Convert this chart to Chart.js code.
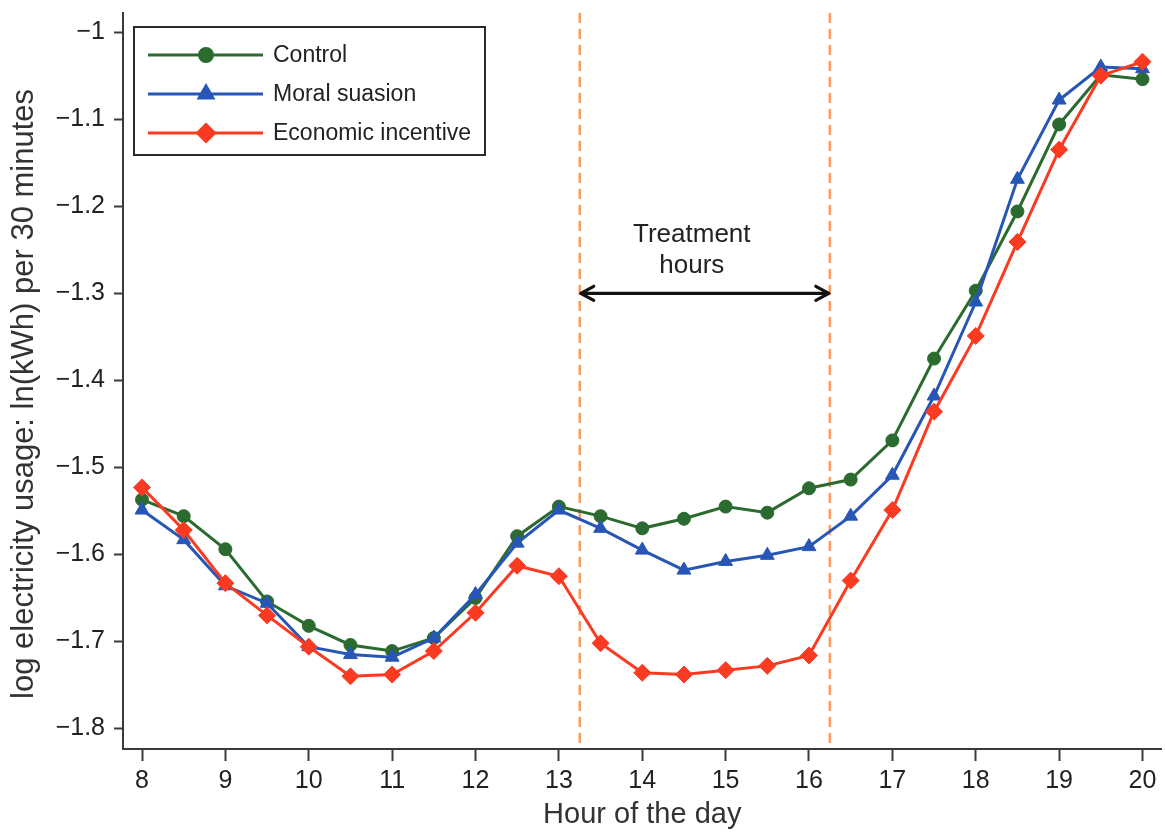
<!DOCTYPE html>
<html>
<head>
<meta charset="utf-8">
<script src="https://cdn.jsdelivr.net/npm/chart.js@4.4.1/dist/chart.umd.min.js"></script>
<style>
	html, body { margin: 0; padding: 0; background: #fff; overflow: hidden; }
	/* a few px wider than the window: Chart.js keeps ~9px free past the last x label */
	#wrap { width: 1171px; height: 832px; position: relative; }
</style>
</head>
<body>
<div id="wrap"><canvas id="chart"></canvas></div>
<script>
// Half-hourly log electricity usage by treatment group.
const hours = [8, 8.5, 9, 9.5, 10, 10.5, 11, 11.5, 12, 12.5, 13, 13.5, 14, 14.5, 15, 15.5, 16, 16.5, 17, 17.5, 18, 18.5, 19, 19.5, 20];
const control = [-1.537, -1.556, -1.594, -1.654, -1.682, -1.704, -1.711, -1.696, -1.65, -1.579, -1.545, -1.556, -1.57, -1.559, -1.545, -1.552, -1.524, -1.514, -1.469, -1.375, -1.297, -1.206, -1.106, -1.049, -1.054];
const moralSuasion = [-1.549, -1.583, -1.636, -1.656, -1.706, -1.715, -1.718, -1.696, -1.646, -1.587, -1.549, -1.57, -1.595, -1.618, -1.608, -1.601, -1.591, -1.556, -1.509, -1.418, -1.31, -1.169, -1.078, -1.04, -1.042];
const economicIncentive = [-1.523, -1.572, -1.633, -1.67, -1.706, -1.74, -1.738, -1.711, -1.667, -1.613, -1.625, -1.702, -1.736, -1.738, -1.733, -1.728, -1.716, -1.63, -1.549, -1.436, -1.349, -1.241, -1.135, -1.05, -1.034];

const treatmentStart = 13.25;
const treatmentEnd = 16.25;
const arrowLevel = -1.3;
const treatmentLabel = ['Treatment', 'hours'];

const FONT = '"Liberation Sans", Arial, Helvetica, sans-serif';
const INK = '#222';
const AXIS = '#3a3a3a';

function toPoints(values) {
	return hours.map((h, i) => ({ x: h, y: values[i] }));
}

function series(label, values, color, pointStyle, radius, order) {
	return {
		label,
		data: toPoints(values),
		borderColor: color,
		backgroundColor: color,
		borderWidth: 3,
		pointStyle,
		pointRadius: radius,
		pointBorderWidth: 1,
		tension: 0,
		order,
	};
}

function minusLabel(v) {
	const r = Math.round(v * 10) / 10;
	if (r === 0) {
		return '0';
	}
	const s = Math.abs(r) === 1 ? '1' : Math.abs(r).toFixed(1);
	return (r < 0 ? '\u2212' : '') + s;
}

// Chart.js reserves room for half a tick label at the axis ends; the
// reference plot does not, so drop it to keep the frame where it belongs.
function noEndPadding(scale) {
	scale.paddingTop = 0;
	scale.paddingBottom = 0;
	scale.paddingLeft = 0;
	scale.paddingRight = 0;
}

// Dashed treatment-window lines, double arrow and its caption.
const treatmentPlugin = {
	id: 'treatment',
	beforeDatasetsDraw(chart) {
		const { ctx, chartArea, scales } = chart;
		ctx.save();
		ctx.strokeStyle = '#f79c5e';
		ctx.lineWidth = 2.5;
		ctx.setLineDash([10, 6]);
		for (const h of [treatmentStart, treatmentEnd]) {
			const px = scales.x.getPixelForValue(h);
			ctx.beginPath();
			ctx.moveTo(px, chartArea.top);
			ctx.lineTo(px, chartArea.bottom);
			ctx.stroke();
		}
		ctx.restore();
	},
	afterDatasetsDraw(chart) {
		const { ctx, scales } = chart;
		const x0 = scales.x.getPixelForValue(treatmentStart);
		const x1 = scales.x.getPixelForValue(treatmentEnd);
		const y = scales.y.getPixelForValue(arrowLevel);
		ctx.save();
		ctx.strokeStyle = '#111';
		ctx.lineWidth = 3.2;
		ctx.lineCap = 'round';
		ctx.lineJoin = 'round';
		ctx.beginPath();
		ctx.moveTo(x0 + 1, y);
		ctx.lineTo(x1 - 1, y);
		ctx.moveTo(x0 + 14, y - 7);
		ctx.lineTo(x0 + 1, y);
		ctx.lineTo(x0 + 14, y + 7);
		ctx.moveTo(x1 - 14, y - 7);
		ctx.lineTo(x1 - 1, y);
		ctx.lineTo(x1 - 14, y + 7);
		ctx.stroke();

		ctx.fillStyle = INK;
		ctx.font = `26px ${FONT}`;
		ctx.textAlign = 'center';
		ctx.textBaseline = 'middle';
		const cx = (x0 + x1) / 2 - 13;
		ctx.fillText(treatmentLabel[0], cx, y - 58);
		ctx.fillText(treatmentLabel[1], cx, y - 27);
		ctx.restore();
	},
};

// Boxed legend in the top-left corner of the plot.
const boxLegendPlugin = {
	id: 'boxLegend',
	afterDraw(chart) {
		const { ctx, chartArea } = chart;
		const left = chartArea.left + 11;
		const top = chartArea.top + 14;
		const width = 351;
		const rowH = 39;
		ctx.save();
		ctx.fillStyle = '#fff';
		ctx.strokeStyle = '#2b2b2b';
		ctx.lineWidth = 2;
		ctx.fillRect(left, top, width, 128);
		ctx.strokeRect(left, top, width, 128);
		ctx.font = `23px ${FONT}`;
		ctx.textBaseline = 'middle';
		ctx.textAlign = 'left';
		chart.data.datasets.forEach((ds, i) => {
			const y = top + 28 + i * rowH;
			ctx.strokeStyle = ds.borderColor;
			ctx.lineWidth = ds.borderWidth;
			ctx.beginPath();
			ctx.moveTo(left + 14, y);
			ctx.lineTo(left + 129, y);
			ctx.stroke();
			ctx.fillStyle = ds.backgroundColor;
			Chart.helpers.drawPoint(ctx, {
				pointStyle: ds.pointStyle,
				radius: ds.pointRadius,
				rotation: 0,
				borderWidth: 1,
			}, left + 72, y);
			ctx.fillStyle = INK;
			ctx.fillText(ds.label, left + 139, y + 1);
		});
		ctx.restore();
	},
};

const datasets = [
	series('Control', control, '#2b6b30', 'circle', 6.5, 3),
	series('Moral suasion', moralSuasion, '#2756b6', 'triangle', 8, 2),
	series('Economic incentive', economicIncentive, '#fb3a22', 'rectRot', 8.5, 1),
];

new Chart(document.getElementById('chart'), {
	type: 'line',
	data: { datasets },
	plugins: [treatmentPlugin, boxLegendPlugin],
	options: {
		responsive: true,
		maintainAspectRatio: false,
		animation: false,
		events: [],
		layout: { padding: { top: 13, right: 4, left: 0, bottom: 0 } },
		plugins: {
			legend: { display: false },
			tooltip: { enabled: false },
		},
		scales: {
			x: {
				type: 'linear',
				min: 7.772,
				max: 20.228,
				afterFit: (scale) => {
					scale.height = 83;
					noEndPadding(scale);
				},
				grid: {
					drawOnChartArea: false,
					drawTicks: true,
					tickLength: 12,
					tickWidth: 2,
					tickColor: AXIS,
				},
				border: { color: AXIS, width: 2 },
				ticks: {
					stepSize: 1,
					includeBounds: false,
					maxRotation: 0,
					padding: 5,
					color: INK,
					font: { family: FONT, size: 25 },
					callback: (v) => String(v),
				},
				title: {
					display: true,
					text: 'Hour of the day',
					color: '#333',
					font: { family: FONT, size: 29 },
					padding: { top: 0, bottom: 0 },
				},
			},
			y: {
				type: 'linear',
				min: -1.8235,
				max: -0.978,
				afterFit: (scale) => {
					scale.width = 123;
					noEndPadding(scale);
				},
				grid: {
					drawOnChartArea: false,
					drawTicks: true,
					tickLength: 9,
					tickWidth: 2,
					tickColor: AXIS,
				},
				border: { color: AXIS, width: 2 },
				ticks: {
					stepSize: 0.1,
					includeBounds: false,
					padding: 9,
					color: INK,
					font: { family: FONT, size: 25 },
					callback: (v) => minusLabel(v),
				},
				title: {
					display: true,
					// trailing no-break spaces nudge the rotated title down to sit like the original
					text: 'log electricity usage: ln(kWh) per 30 minutes\u00a0\u00a0\u00a0',
					color: '#333',
					font: { family: FONT, size: 31 },
					padding: { top: 6, bottom: 0 },
				},
			},
		},
	},
});
</script>
</body>
</html>
